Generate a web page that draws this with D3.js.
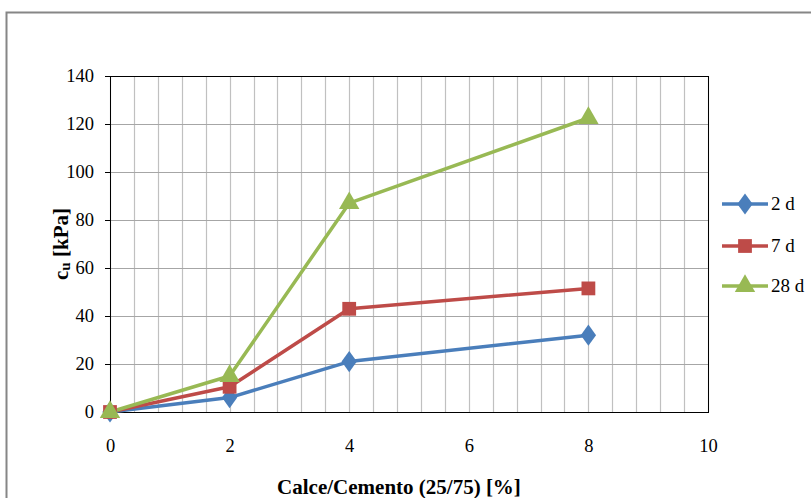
<!DOCTYPE html>
<html>
<head>
<meta charset="utf-8">
<script src="https://cdn.jsdelivr.net/npm/d3@7"></script>
<style>
  body { margin: 0; background: #fff; }
  svg text { font-family: "Liberation Serif", "Times New Roman", serif !important; }
</style>
</head>
<body>
<div id="chart"></div>
<script>
// Data
const xValues = [0, 2, 4, 8];
const seriesNames = ["2 d", "7 d", "28 d"];
const values2d = [0, 6, 21, 32];
const values7d = [0, 10.5, 43, 51.5];
const values28d = [0, 15, 87, 122.5];
const xTicks = [0, 2, 4, 6, 8, 10];
const yTicks = [0, 20, 40, 60, 80, 100, 120, 140];

const colors = ["#4A7EBB", "#BE4B48", "#98B954"];
const symbols = [d3.symbolDiamond, d3.symbolSquare, d3.symbolTriangle];
const symbolSizes = [130, 190, 180];

const W = 811, H = 498;
const margin = { top: 76, right: 103, bottom: 86, left: 110 };
const width = W - margin.left - margin.right;
const height = H - margin.top - margin.bottom;

const root = d3.select("#chart").append("svg")
    .attr("width", W)
    .attr("height", H);

// Outer chart border
root.append("rect")
    .attr("x", 6.5).attr("y", 12.5)
    .attr("width", W + 10).attr("height", H + 10)
    .attr("fill", "none")
    .attr("stroke", "#868686")
    .attr("stroke-width", 2);

const svg = root.append("g")
    .attr("transform", `translate(${margin.left},${margin.top})`);

const x = d3.scaleLinear().domain([0, 10]).range([0, width]);
const y = d3.scaleLinear().domain([0, 140]).range([height, 0]);

// Gridlines
const xGrid = d3.range(0, 10.001, 0.4);
svg.append("g").selectAll("line").data(xGrid).join("line")
    .attr("x1", d => Math.round(x(d)) + 0.5).attr("x2", d => Math.round(x(d)) + 0.5)
    .attr("y1", 0).attr("y2", height)
    .attr("stroke", "#c0c0c0").attr("stroke-width", 1.2);
svg.append("g").selectAll("line").data(yTicks).join("line")
    .attr("x1", 0).attr("x2", width)
    .attr("y1", d => Math.round(y(d)) + 0.5).attr("y2", d => Math.round(y(d)) + 0.5)
    .attr("stroke", "#a6a6a6").attr("stroke-width", 1.2);

// Axes
const yAxis = svg.append("g")
    .call(d3.axisLeft(y).tickValues(yTicks).tickSize(5).tickPadding(11));
const xAxis = svg.append("g")
    .attr("transform", `translate(0,${height})`)
    .call(d3.axisBottom(x).tickValues(xTicks).tickSize(0).tickPadding(27));
[xAxis, yAxis].forEach(a => {
    a.attr("font-family", null);
    a.select(".domain").remove();
    a.selectAll("text").attr("font-size", 18.5).attr("fill", "#000");
    a.selectAll("line").attr("stroke", "#000");
});

// Plot border
svg.append("rect")
    .attr("x", 0.5).attr("y", 0.5)
    .attr("width", width).attr("height", height)
    .attr("fill", "none").attr("stroke", "#000").attr("stroke-width", 1);

// Axis titles
svg.append("text")
    .attr("x", width / 2 - 10)
    .attr("y", height + 82)
    .attr("text-anchor", "middle")
    .attr("font-size", 21).attr("font-weight", "bold")
    .text("Calce/Cemento (25/75) [%]");

const yt = svg.append("text")
    .attr("transform", `translate(-42,${height / 2}) rotate(-90)`)
    .attr("text-anchor", "middle")
    .attr("font-size", 21).attr("font-weight", "bold");
yt.append("tspan").text("c");
yt.append("tspan").attr("font-size", 15).attr("dy", 2).text("u");
yt.append("tspan").attr("dy", -2).text(" [kPa]");

// Series
const series = [values2d, values7d, values28d].map((vals, i) => ({
    name: seriesNames[i],
    points: xValues.map((xv, j) => ({ x: xv, y: vals[j] }))
}));

const line = d3.line().x(d => x(d.x)).y(d => y(d.y));

series.forEach((s, i) => {
    svg.append("path")
        .datum(s.points)
        .attr("fill", "none")
        .attr("stroke", colors[i])
        .attr("stroke-width", 3.5)
        .attr("stroke-linejoin", "round")
        .attr("d", line);
});

series.forEach((s, i) => {
    svg.append("g").selectAll("path").data(s.points).join("path")
        .attr("transform", d => `translate(${x(d.x)},${y(d.y)})` + (i === 0 ? " scale(1.25,1)" : ""))
        .attr("d", d3.symbol().type(symbols[i]).size(symbolSizes[i]))
        .attr("fill", colors[i]);
});

// Legend
const legend = root.append("g").attr("transform", "translate(722,0)");
const legendY = [204, 246, 286];
seriesNames.forEach((name, i) => {
    const g = legend.append("g").attr("transform", `translate(0,${legendY[i]})`);
    g.append("line")
        .attr("x1", 0).attr("x2", 46)
        .attr("stroke", colors[i]).attr("stroke-width", 3.5);
    g.append("path")
        .attr("transform", "translate(23,0)" + (i === 0 ? " scale(1.25,1)" : ""))
        .attr("d", d3.symbol().type(symbols[i]).size(symbolSizes[i]))
        .attr("fill", colors[i]);
    g.append("text")
        .attr("x", 49).attr("y", 6)
        .attr("font-size", 19)
        .text(name);
});
</script>
</body>
</html>
